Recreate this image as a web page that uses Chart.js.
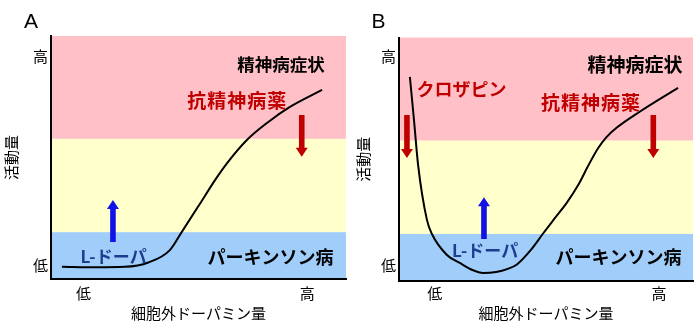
<!DOCTYPE html>
<html>
<head>
<meta charset="utf-8">
<script src="https://cdn.jsdelivr.net/npm/chart.js@4.4.0/dist/chart.umd.min.js"></script>
<style>
  html, body { margin: 0; padding: 0; background: #fff; }
  #wrap { position: relative; width: 700px; height: 329px; }
  .panel { position: absolute; top: 0; width: 350px; height: 329px; }
  #panelA { left: 0; }
  #panelB { left: 350px; }
</style>
</head>
<body>
<div id="wrap">
  <div class="panel" id="panelA"><canvas id="chartA" width="350" height="329"></canvas></div>
  <div class="panel" id="panelB"><canvas id="chartB" width="350" height="329"></canvas></div>
</div>
<script>
// activity vs. extracellular dopamine, both axes on a 0-10 arbitrary scale
const doseA = [0.37, 1.5, 2.5, 3.3, 4.03, 4.43, 5.05, 5.56, 5.97, 6.64, 7.32, 8.1, 9.19];
const activityA = [0.5, 0.48, 0.5, 0.68, 1.19, 1.93, 3.1, 4.07, 4.77, 5.72, 6.42, 7.08, 7.78];
const doseB = [0.37, 0.51, 0.65, 0.95, 1.12, 1.63, 2.07, 2.5, 2.86, 3.3, 3.7, 4.01, 4.5, 4.9, 5.3, 5.71, 6.1, 6.43, 6.77, 7.05, 7.41, 8.2, 9.49];
const activityB = [8.38, 6.61, 4.76, 2.51, 1.93, 1.07, 0.74, 0.45, 0.33, 0.37, 0.5, 0.68, 1.3, 1.95, 2.58, 3.22, 3.95, 4.72, 5.45, 5.9, 6.3, 6.96, 7.93];

// activity zones: parkinsonism / normal / psychosis
const zoneEdges = [0, 1.93, 5.77, 10];
const zoneColors = ['#a0cdfa', '#ffffcc', '#ffc1c7'];

const tickLabels = ['低', '高'];
const xTicksA = [1.1, 8.69];
const yTicksA = [0.58, 9.18];
const xTicksB = [1.22, 8.84];
const yTicksB = [0.66, 9.24];

// drug effect arrows (x, start activity, end activity)
const arrowsA = [
  { x: 2.10, from: 1.52, to: 3.25, color: '#1212e6' },
  { x: 8.50, from: 6.75, to: 5.03, color: '#c00000' }
];
const arrowsB = [
  { x: 0.27, from: 6.82, to: 5.05, color: '#c00000' },
  { x: 2.89, from: 1.72, to: 3.44, color: '#1212e6' },
  { x: 8.65, from: 6.82, to: 5.05, color: '#c00000' }
];

const notesA = [
  { text: '精神病症状', x: 7.80, y: 8.83, color: '#000', size: 17.5 },
  { text: '抗精神病薬', x: 6.31, y: 7.35, color: '#c00000', size: 19, spacing: 1 },
  { text: 'L-ドーパ', x: 2.12, y: 0.93, color: '#1f3d8f', size: 17 },
  { text: 'パーキンソン病', x: 7.44, y: 0.88, color: '#000', size: 18 }
];
const notesB = [
  { text: '精神病症状', x: 8.03, y: 8.89, color: '#000', size: 19 },
  { text: 'クロザピン', x: 2.13, y: 7.86, color: '#c00000', size: 18 },
  { text: '抗精神病薬', x: 6.53, y: 7.33, color: '#c00000', size: 19, spacing: 1 },
  { text: 'L-ドーパ', x: 2.93, y: 1.27, color: '#1f3d8f', size: 17 },
  { text: 'パーキンソン病', x: 7.47, y: 0.97, color: '#000', size: 18 }
];

const FONT = "'Noto Sans CJK JP', 'Noto Sans', sans-serif";
Chart.defaults.font.family = FONT;
Chart.defaults.color = '#000';

const zonePlugin = {
  id: 'zones',
  beforeDraw(chart) {
    const { ctx, chartArea: a, scales: { y } } = chart;
    ctx.save();
    for (let i = 0; i < zoneColors.length; i++) {
      const top = y.getPixelForValue(zoneEdges[i + 1]);
      const bottom = y.getPixelForValue(zoneEdges[i]);
      ctx.fillStyle = zoneColors[i];
      ctx.fillRect(a.left, top, a.right - a.left, bottom - top);
    }
    ctx.restore();
  }
};

function drawArrow(ctx, x, y0, y1, color) {
  const shaft = 2.8, head = 6, headLen = 9;
  const dir = y1 < y0 ? -1 : 1;
  const hb = y1 - dir * headLen;
  ctx.beginPath();
  ctx.moveTo(x - shaft, y0);
  ctx.lineTo(x - shaft, hb);
  ctx.lineTo(x - head, hb);
  ctx.lineTo(x, y1);
  ctx.lineTo(x + head, hb);
  ctx.lineTo(x + shaft, hb);
  ctx.lineTo(x + shaft, y0);
  ctx.closePath();
  ctx.fillStyle = color;
  ctx.fill();
}

const notePlugin = {
  id: 'notes',
  beforeDatasetsDraw(chart, args, opts) {
    const { ctx, scales: { x, y } } = chart;
    ctx.save();
    opts.arrows.forEach(a => {
      drawArrow(ctx, x.getPixelForValue(a.x), y.getPixelForValue(a.from), y.getPixelForValue(a.to), a.color);
    });
    ctx.restore();
  },
  afterDatasetsDraw(chart, args, opts) {
    const { ctx, chartArea, scales: { x, y } } = chart;
    ctx.save();
    ctx.textAlign = 'center';
    ctx.textBaseline = 'middle';
    opts.notes.forEach(n => {
      ctx.font = 'bold ' + n.size + 'px ' + FONT;
      ctx.letterSpacing = (n.spacing || 0) + 'px';
      ctx.fillStyle = n.color;
      ctx.fillText(n.text, x.getPixelForValue(n.x), y.getPixelForValue(n.y));
    });
    // panel letter
    ctx.letterSpacing = '0px';
    ctx.font = "21px 'Liberation Sans', Arial, sans-serif";
    ctx.textBaseline = 'alphabetic';
    ctx.fillStyle = '#000';
    ctx.fillText(opts.letter, chartArea.left + opts.letterDx, chartArea.top + opts.letterDy);
    ctx.restore();
  }
};

function makeChart(id, xs, ys, xTicks, yTicks, arrows, notes, letter, g) {
  const points = xs.map((v, i) => ({ x: v, y: ys[i] }));
  return new Chart(document.getElementById(id), {
    type: 'scatter',
    data: {
      datasets: [{
        data: points,
        showLine: true,
        borderColor: '#000',
        borderWidth: 2,
        pointRadius: 0,
        cubicInterpolationMode: 'monotone',
        fill: false
      }]
    },
    options: {
      responsive: false,
      animation: false,
      layout: { padding: { top: g.top, right: g.right, left: 0, bottom: 0 } },
      plugins: {
        legend: { display: false },
        tooltip: { enabled: false },
        notes: { arrows: arrows, notes: notes, letter: letter, letterDx: g.letterDx, letterDy: g.letterDy }
      },
      scales: {
        x: {
          type: 'linear', min: 0, max: 10,
          grid: { display: false, drawTicks: false },
          border: { color: '#000', width: 2 },
          afterBuildTicks: s => { s.ticks = xTicks.map(v => ({ value: v })); },
          afterFit: s => { s.height = g.xHeight; },
          ticks: {
            autoSkip: false, maxRotation: 0, padding: g.xPad,
            font: { size: 15 },
            callback: (v, i) => tickLabels[i]
          },
          title: { display: true, text: '細胞外ドーパミン量', font: { size: 15 }, padding: { top: 0, bottom: 6.5 } }
        },
        y: {
          type: 'linear', min: 0, max: 10,
          grid: { display: false, drawTicks: false },
          border: { color: '#000', width: 2 },
          afterBuildTicks: s => { s.ticks = yTicks.map(v => ({ value: v })); },
          afterFit: s => { s.width = g.yWidth; },
          ticks: {
            autoSkip: false, padding: 3,
            font: { size: 15 },
            callback: (v, i) => tickLabels[i]
          },
          title: { display: true, text: '活動量', font: { size: 15 }, padding: { top: g.yTitlePad, bottom: 0 } }
        }
      }
    },
    plugins: [zonePlugin, notePlugin]
  });
}

makeChart('chartA', doseA, activityA, xTicksA, yTicksA, arrowsA, notesA, 'A',
  { top: 36, right: 4, xHeight: 50, yWidth: 51, xPad: 5, yTitlePad: 2.5, letterDx: -20, letterDy: -8 });
makeChart('chartB', doseB, activityB, xTicksB, yTicksB, arrowsB, notesB, 'B',
  { top: 37.5, right: 7, xHeight: 48, yWidth: 49, xPad: 3, yTitlePad: 4.5, letterDx: -20.5, letterDy: -9.5 });
</script>
</body>
</html>
